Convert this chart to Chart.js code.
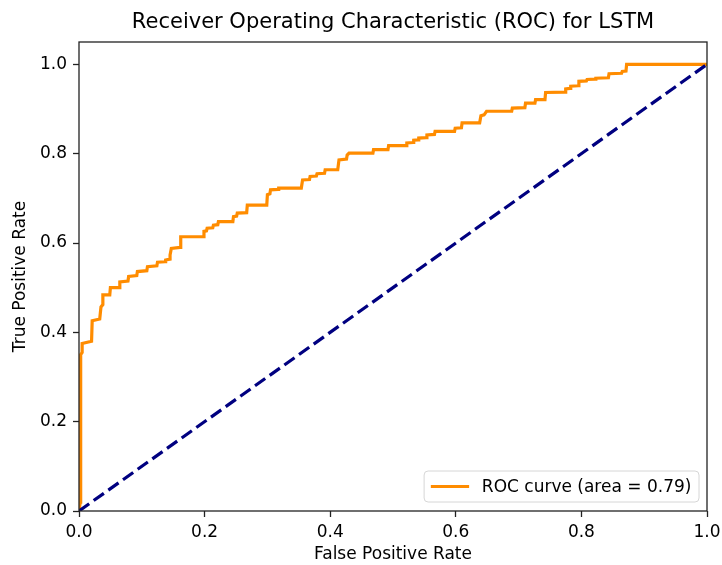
<!DOCTYPE html>
<html>
<head>
<meta charset="utf-8">
<script src="https://cdn.jsdelivr.net/npm/chart.js@4/dist/chart.umd.min.js"></script>
<style>
  html, body { margin: 0; padding: 0; background: #fff; }
  #wrap { width: 722px; height: 565px; }
</style>
</head>
<body>
<div id="wrap"><canvas id="chart"></canvas></div>
<script>
const FONT = "'DejaVu Sans', sans-serif";
const TITLE = "Receiver Operating Characteristic (ROC) for LSTM";
const CURVE_LABEL = "ROC curve (area = 0.79)";

// ROC curve corners
const fpr = [0, 0.002, 0.002, 0.003, 0.003, 0.005, 0.005, 0.020, 0.021, 0.033, 0.035, 0.038, 0.038, 0.049, 0.050, 0.064,
  0.065, 0.078, 0.079, 0.092, 0.093, 0.108, 0.109, 0.124, 0.125, 0.137, 0.138, 0.145, 0.145, 0.147, 0.161, 0.162,
  0.198, 0.199, 0.203, 0.204, 0.213, 0.214, 0.221, 0.222, 0.245, 0.246, 0.251, 0.252, 0.267, 0.268, 0.299, 0.300,
  0.304, 0.305, 0.317, 0.318, 0.354, 0.356, 0.367, 0.368, 0.378, 0.379, 0.391, 0.392, 0.412, 0.414, 0.426, 0.427,
  0.430, 0.468, 0.469, 0.492, 0.493, 0.521, 0.522, 0.532, 0.533, 0.540, 0.541, 0.553, 0.554, 0.566, 0.567, 0.598,
  0.599, 0.609, 0.610, 0.638, 0.640, 0.645, 0.649, 0.689, 0.690, 0.710, 0.711, 0.726, 0.727, 0.742, 0.743, 0.774,
  0.775, 0.782, 0.783, 0.795, 0.796, 0.808, 0.809, 0.822, 0.823, 0.843, 0.844, 0.864, 0.865, 0.871, 0.872, 1.0];
const tpr = [0, 0.020, 0.240, 0.250, 0.350, 0.355, 0.375, 0.380, 0.426, 0.430, 0.457, 0.462, 0.484, 0.484, 0.500, 0.500,
  0.513, 0.515, 0.525, 0.527, 0.536, 0.538, 0.547, 0.549, 0.557, 0.558, 0.562, 0.564, 0.573, 0.588, 0.590, 0.614,
  0.614, 0.626, 0.627, 0.633, 0.634, 0.640, 0.641, 0.648, 0.648, 0.659, 0.660, 0.667, 0.668, 0.685, 0.685, 0.708,
  0.710, 0.719, 0.720, 0.723, 0.723, 0.741, 0.742, 0.749, 0.750, 0.755, 0.756, 0.764, 0.764, 0.786, 0.788, 0.797,
  0.801, 0.801, 0.809, 0.809, 0.818, 0.818, 0.824, 0.825, 0.830, 0.831, 0.835, 0.836, 0.842, 0.843, 0.850, 0.850,
  0.857, 0.858, 0.869, 0.869, 0.885, 0.887, 0.895, 0.895, 0.902, 0.903, 0.913, 0.913, 0.921, 0.921, 0.937, 0.938,
  0.945, 0.946, 0.951, 0.952, 0.962, 0.963, 0.966, 0.967, 0.969, 0.970, 0.979, 0.980, 0.984, 0.985, 1.0, 1.0];

// chance line
const chanceX = [0, 1];
const chanceY = [0, 1];

const xTicks = [0, 0.2, 0.4, 0.6, 0.8, 1.0];
const yTicks = [0, 0.2, 0.4, 0.6, 0.8, 1.0];

const toPoints = (xs, ys) => xs.map((x, i) => ({ x, y: ys[i] }));

// title over the axes, spines, and legend box in the lower right (matplotlib style)
const frameAndLegend = {
  id: "frameAndLegend",
  afterDraw(chart) {
    const { ctx, chartArea: a } = chart;
    ctx.save();

    ctx.font = "21px " + FONT;
    ctx.fillStyle = "#000";
    ctx.textAlign = "center";
    ctx.textBaseline = "middle";
    ctx.fillText(TITLE, (a.left + a.right) / 2, 23);

    ctx.strokeStyle = "#222";
    ctx.lineWidth = 1.3;
    ctx.strokeRect(a.left, a.top, a.right - a.left, a.bottom - a.top);

    ctx.font = "17px " + FONT;
    ctx.textAlign = "left";
    const tw = ctx.measureText(CURVE_LABEL).width;
    const w = 6.7 + 38.3 + 12.7 + tw + 7.6;
    const h = 31;
    const x = a.right - 8 - w;
    const y = a.bottom - 9 - h;
    ctx.beginPath();
    ctx.roundRect(x, y, w, h, 4);
    ctx.fillStyle = "rgba(255,255,255,0.8)";
    ctx.fill();
    ctx.strokeStyle = "#d6d6d6";
    ctx.lineWidth = 1;
    ctx.stroke();

    const ds = chart.data.datasets[0];
    ctx.beginPath();
    ctx.moveTo(x + 6.7, y + h / 2);
    ctx.lineTo(x + 45, y + h / 2);
    ctx.strokeStyle = ds.borderColor;
    ctx.lineWidth = 3;
    ctx.stroke();

    ctx.fillStyle = "#000";
    ctx.fillText(CURVE_LABEL, x + 57.7, y + h / 2 + 1);
    ctx.restore();
  }
};

const tickFont = { family: FONT, size: 17 };

new Chart(document.getElementById("chart"), {
  type: "line",
  data: {
    datasets: [
      {
        label: CURVE_LABEL,
        data: toPoints(fpr, tpr),
        borderColor: "#ff8c00",
        borderWidth: 3.2,
        pointRadius: 0,
        tension: 0,
        order: 1
      },
      {
        label: "chance",
        data: toPoints(chanceX, chanceY),
        borderColor: "#000080",
        borderWidth: 3.2,
        borderDash: [12.5, 5.5],
        pointRadius: 0,
        tension: 0,
        order: 0
      }
    ]
  },
  options: {
    responsive: true,
    maintainAspectRatio: false,
    animation: false,
    layout: { padding: { left: 0, right: 15, top: 42, bottom: 0 } },
    plugins: {
      legend: { display: false },
      tooltip: { enabled: false },
      title: { display: false }
    },
    scales: {
      x: {
        type: "linear",
        min: 0,
        max: 1,
        afterBuildTicks: s => { s.ticks = xTicks.map(v => ({ value: v })); },
        afterFit: s => { s.height = 54; s.paddingLeft = 0; s.paddingRight = 0; },
        ticks: { color: "#000", font: tickFont, padding: 5, maxRotation: 0, callback: v => Number(v).toFixed(1) },
        grid: { display: true, drawOnChartArea: false, drawTicks: true, tickLength: 6, tickColor: "#222", tickWidth: 1.3 },
        border: { display: false },
        title: { display: true, text: "False Positive Rate", color: "#000", font: tickFont, padding: { top: 0, bottom: 0 } }
      },
      y: {
        type: "linear",
        min: 0,
        max: 1.05,
        afterBuildTicks: s => { s.ticks = yTicks.map(v => ({ value: v })); },
        afterFit: s => { s.width = 79; s.paddingTop = 0; s.paddingBottom = 0; },
        ticks: { color: "#000", font: tickFont, padding: 6, callback: v => Number(v).toFixed(1) },
        grid: { display: true, drawOnChartArea: false, drawTicks: true, tickLength: 6, tickColor: "#222", tickWidth: 1.3 },
        border: { display: false },
        title: { display: true, text: "True Positive Rate", color: "#000", font: tickFont, padding: { top: 10, bottom: 0 } }
      }
    }
  },
  plugins: [frameAndLegend]
});
</script>
</body>
</html>
